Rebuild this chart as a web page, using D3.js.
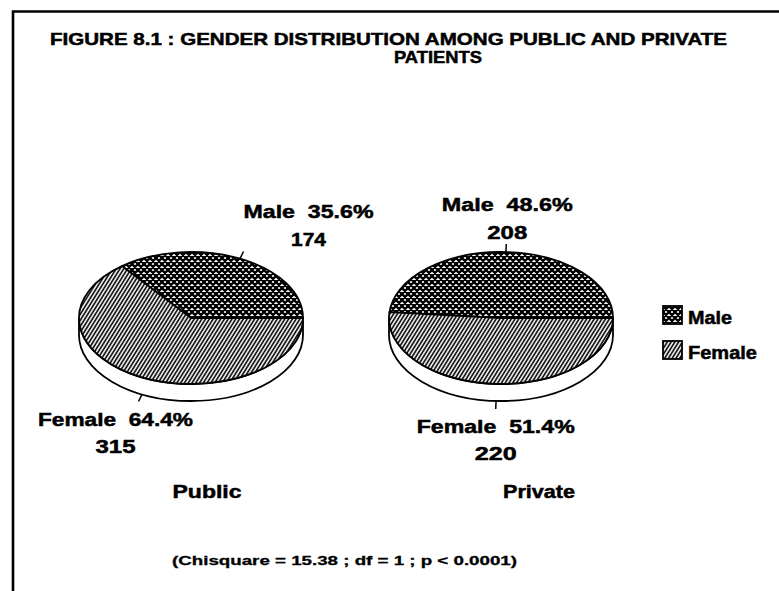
<!DOCTYPE html>
<html>
<head>
<meta charset="utf-8">
<script src="https://cdn.jsdelivr.net/npm/d3@7"></script>
<style>
  html, body { margin: 0; padding: 0; background: #fff; }
  svg { display: block; }
  text { font-family: "Liberation Sans", Arial, sans-serif; font-weight: bold; fill: #000; stroke: #000; stroke-width: 0.5px; }
</style>
</head>
<body>
<svg id="chart"></svg>
<script>
// Data
const groups = ["Public", "Private"];
const genders = ["Male", "Female"];
const maleCounts = [174, 208];
const femaleCounts = [315, 220];
const malePct = [35.6, 48.6];
const femalePct = [64.4, 51.4];
const titleLines = ["FIGURE 8.1 : GENDER DISTRIBUTION AMONG PUBLIC AND PRIVATE", "PATIENTS"];
const note = "(Chisquare = 15.38 ; df = 1 ; p < 0.0001)";

// Dimensions
const svg_width = 779;
const svg_height = 591;
const rx = 112, ry = 66, depth = 17, cy = 318;

const svg = d3.select("#chart")
    .attr("width", svg_width)
    .attr("height", svg_height);

// Patterns
const defs = svg.append("defs");
const cross = defs.append("pattern")
    .attr("id", "pat-male")
    .attr("patternUnits", "userSpaceOnUse")
    .attr("width", 6).attr("height", 6);
cross.append("rect").attr("width", 6).attr("height", 6).attr("fill", "#fff");
cross.append("path")
    .attr("d", "M0,0L6,6M0,6L6,0M-1,1L1,-1M5,7L7,5M-1,5L1,7M5,-1L7,1")
    .attr("stroke", "#000").attr("stroke-width", 2.3);

const hatch = defs.append("pattern")
    .attr("id", "pat-female")
    .attr("patternUnits", "userSpaceOnUse")
    .attr("width", 3.2).attr("height", 10)
    .attr("patternTransform", "rotate(32)");
hatch.append("rect").attr("width", 3.2).attr("height", 10).attr("fill", "#fff");
hatch.append("line")
    .attr("x1", 1).attr("y1", 0).attr("x2", 1).attr("y2", 10)
    .attr("stroke", "#000").attr("stroke-width", 1.6);

const fills = { Male: "url(#pat-male)", Female: "url(#pat-female)" };

// Frame (top and left rules of the scanned page)
svg.append("path")
    .attr("d", `M13,${svg_height}V11.5H${svg_width}`)
    .attr("fill", "none").attr("stroke", "#000").attr("stroke-width", 2.6);

// fit text to a measured width
function fitText(sel, len) {
    return sel.attr("textLength", len).attr("lengthAdjust", "spacingAndGlyphs");
}

// Title
fitText(svg.append("text").attr("x", 50).attr("y", 45).attr("font-size", 17).text(titleLines[0]), 677);
fitText(svg.append("text").attr("x", 438).attr("y", 63).attr("text-anchor", "middle").attr("font-size", 17).text(titleLines[1]), 88);

// Scales
const xScale = d3.scalePoint().domain(groups).range([191, 501]);

const pie = d3.pie()
    .sort(null)
    .value(d => d.count)
    .startAngle(Math.PI / 2)
    .endAngle(Math.PI / 2 - 2 * Math.PI);

// label layout nudges (per group: male, female)
const labelDx = { Public: [65, -23], Private: [1, 0] };
const labelW = { Public: [[130, 35], [155, 40]], Private: [[131, 40], [158, 42]] };

groups.forEach((g, gi) => {
    const cx = xScale(g);
    const rows = genders.map((s, si) => ({
        gender: s,
        count: si === 0 ? maleCounts[gi] : femaleCounts[gi],
        pct: si === 0 ? malePct[gi] : femalePct[gi]
    }));
    const arcs = pie(rows);
    const pt = a => [cx + rx * Math.sin(a), cy - ry * Math.cos(a)];

    const grp = svg.append("g");

    // side of the disk
    grp.append("path")
        .attr("d", `M${cx - rx},${cy}A${rx},${ry} 0 0 0 ${cx + rx},${cy}L${cx + rx},${cy + depth}A${rx},${ry} 0 0 1 ${cx - rx},${cy + depth}Z`)
        .attr("fill", "#fff").attr("stroke", "#000").attr("stroke-width", 1.8);

    // top face slices
    grp.selectAll("path.slice")
        .data(arcs)
        .enter()
        .append("path")
        .attr("class", "slice")
        .attr("d", d => {
            const p0 = pt(d.startAngle), p1 = pt(d.endAngle);
            const large = Math.abs(d.endAngle - d.startAngle) > Math.PI ? 1 : 0;
            const sweep = d.endAngle > d.startAngle ? 1 : 0;
            return `M${cx},${cy}L${p0[0]},${p0[1]}A${rx},${ry} 0 ${large} ${sweep} ${p1[0]},${p1[1]}Z`;
        })
        .attr("fill", d => fills[d.data.gender])
        .attr("stroke", "#000").attr("stroke-width", 1.8).attr("stroke-linejoin", "round");

    // leader ticks and labels
    arcs.forEach((d, si) => {
        const m = (d.startAngle + d.endAngle) / 2;
        const dx = Math.sin(m), dy = -Math.cos(m);
        const e = pt(m);
        if (dy > 0) e[1] += depth;
        const t = [e[0] + dx * 8, e[1] + dy * 8];
        grp.append("line")
            .attr("x1", e[0]).attr("y1", e[1]).attr("x2", t[0]).attr("y2", t[1])
            .attr("stroke", "#000").attr("stroke-width", 1.5);

        const lx = t[0] + labelDx[g][si];
        const y2 = dy < 0 ? t[1] - 5 : t[1] + 24 + 27;
        const y1 = dy < 0 ? y2 - 28 : t[1] + 24;
        fitText(grp.append("text").attr("x", lx).attr("y", y1).attr("text-anchor", "middle")
            .attr("font-size", 19).attr("xml:space", "preserve")
            .text(`${d.data.gender}  ${d.data.pct.toFixed(1)}%`), labelW[g][si][0]);
        fitText(grp.append("text").attr("x", lx).attr("y", y2).attr("text-anchor", "middle")
            .attr("font-size", 19).text(d.data.count), labelW[g][si][1]);
    });
});

// Group labels
const groupLabelX = { Public: 207, Private: 539 };
const groupLabelW = { Public: 69, Private: 72 };
groups.forEach(g => {
    fitText(svg.append("text")
        .attr("x", groupLabelX[g]).attr("y", 498)
        .attr("text-anchor", "middle").attr("font-size", 19)
        .text(g), groupLabelW[g]);
});

// Legend
const legend = svg.append("g").attr("transform", "translate(663, 306)");
const legendW = { Male: 44, Female: 69 };
genders.forEach((s, i) => {
    const row = legend.append("g").attr("transform", `translate(0, ${i * 35})`);
    row.append("rect")
        .attr("width", 19).attr("height", 18)
        .attr("fill", fills[s]).attr("stroke", "#000").attr("stroke-width", 1.8);
    fitText(row.append("text").attr("x", 25).attr("y", 18).attr("font-size", 18).text(s), legendW[s]);
});

// Note
fitText(svg.append("text").attr("x", 172).attr("y", 565).attr("font-size", 13).style("stroke-width", "0.3px").text(note), 345);
</script>
</body>
</html>
